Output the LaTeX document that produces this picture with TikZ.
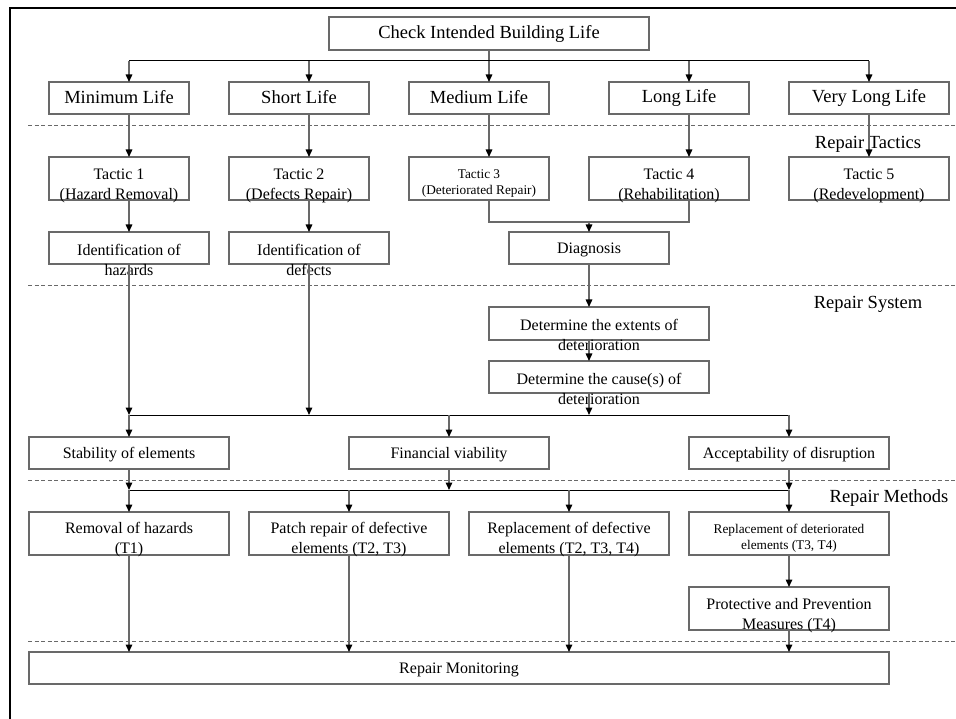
\documentclass[tikz,border=0pt]{standalone}
\usepackage{fontspec}
\setmainfont{Liberation Serif}
\usetikzlibrary{arrows.meta}
\definecolor{edge}{RGB}{105,105,105}
\newcommand{\bigstrut}{\rule[-3pt]{0pt}{16.5pt}}
\newcommand{\midstrut}{\rule[-2pt]{0pt}{16pt}}
\newcommand{\smallstrut}{\rule[-0.5pt]{0pt}{15pt}}
\begin{document}
\begin{tikzpicture}[x=1pt,y=1pt,
  box/.style={draw=edge, line width=1.6pt, inner sep=0pt, outer sep=0pt},
  big/.style={font=\fontsize{18.5}{21}\selectfont,
    execute at begin node=\bigstrut, execute at end node=\bigstrut},
  mid/.style={font=\fontsize{16}{20}\selectfont, align=center,
    execute at begin node=\midstrut, execute at end node=\midstrut},
  small/.style={font=\fontsize{13.3}{16.5}\selectfont, align=center,
    execute at begin node=\smallstrut, execute at end node=\smallstrut},
  tip/.style={-{Triangle[length=7.5pt,width=6.5pt,color=black,fill=black]}},
  conn/.style={draw=edge, line width=1.5pt, tip},
  plain/.style={draw=edge, line width=1.5pt},
  bus/.style={draw=black, line width=1pt},
  sep/.style={draw=edge, line width=1pt, dash pattern=on 4pt off 2.5pt},
]
\useasboundingbox (0,0) rectangle (956,-719);

% outer frame (left and top edges)
\draw[line width=2.6pt] (10,-719) -- (10,-8) -- (956,-8);

% section separators
\draw[sep] (28,-126) -- (956,-126);
\draw[sep] (28,-286) -- (956,-286);
\draw[sep] (28,-480) -- (956,-480);
\draw[sep] (28,-641) -- (956,-641);

% section titles
\node[big] (lt) at (868,-144) {Repair Tactics};
\node[big] (ls) at (868,-304) {Repair System};
\node[big] (lm) at (889,-498) {Repair Methods};

% column and bus coordinates
\coordinate (cA) at (129,0);
\coordinate (cB) at (309,0);
\coordinate (cC) at (489,0);
\coordinate (cD) at (589,0);
\coordinate (cE) at (689,0);
\coordinate (cF) at (869,0);
\coordinate (cJ) at (789,0);
\coordinate (b1) at (0,-61);
\coordinate (b2) at (0,-222);
\coordinate (b3) at (0,-415);
\coordinate (b4) at (0,-490);

% building life
\node[box, big, minimum width=320pt, minimum height=33pt] (check) at (489,-33.5) {Check Intended Building Life};
\node[box, big, minimum width=140pt, minimum height=32pt] (min) at (119,-98) {Minimum Life};
\node[box, big, minimum width=140pt, minimum height=32pt] (short) at (299,-98) {Short Life};
\node[box, big, minimum width=140pt, minimum height=32pt] (med) at (479,-98) {Medium Life};
\node[box, big, minimum width=140pt, minimum height=32pt] (long) at (679,-98) {Long Life};
\node[box, big, minimum width=160pt, minimum height=32pt] (vlong) at (869,-98) {Very Long Life};

% tactics
\node[box, minimum width=140pt, minimum height=43pt] (t1) at (119,-178.5) {};
\node[box, minimum width=140pt, minimum height=43pt] (t2) at (299,-178.5) {};
\node[box, minimum width=140pt, minimum height=43pt] (t3) at (479,-178.5) {};
\node[box, minimum width=160pt, minimum height=43pt] (t4) at (669,-178.5) {};
\node[box, minimum width=160pt, minimum height=43pt] (t5) at (869,-178.5) {};
\node[mid] (t1t) at (119,-185.5) {Tactic 1\\(Hazard Removal)};
\node[mid] (t2t) at (299,-185.5) {Tactic 2\\(Defects Repair)};
\node[small] (t3t) at (479,-183.5) {Tactic 3\\(Deteriorated Repair)};
\node[mid] (t4t) at (669,-185.5) {Tactic 4\\(Rehabilitation)};
\node[mid] (t5t) at (869,-185.5) {Tactic 5\\(Redevelopment)};

\node[box, minimum width=160pt, minimum height=32pt] (idh) at (129,-248) {};
\node[box, minimum width=160pt, minimum height=32pt] (idd) at (309,-248) {};
\node[mid] (idht) at (129,-260.5) {Identification of\\hazards};
\node[mid] (iddt) at (309,-260.5) {Identification of\\defects};
\node[box, mid, minimum width=160pt, minimum height=32pt] (diag) at (589,-248) {Diagnosis};

% repair system
\node[box, minimum width=220pt, minimum height=33pt] (ext) at (599,-323.5) {};
\node[mid] (extt) at (599,-335.5) {Determine the extents of\\deterioration};
\node[box, minimum width=220pt, minimum height=32pt] (cause) at (599,-377) {};
\node[mid] (causet) at (599,-389.5) {Determine the cause(s) of\\deterioration};

\node[box, mid, minimum width=200pt, minimum height=32pt] (stab) at (129,-453) {Stability of elements};
\node[box, mid, minimum width=200pt, minimum height=32pt] (fin) at (449,-453) {Financial viability};
\node[box, mid, minimum width=200pt, minimum height=32pt] (acc) at (789,-453) {Acceptability of disruption};

% repair methods
\node[box, minimum width=200pt, minimum height=43pt] (rem) at (129,-533.5) {};
\node[box, minimum width=200pt, minimum height=43pt] (patch) at (349,-533.5) {};
\node[box, minimum width=200pt, minimum height=43pt] (repl) at (569,-533.5) {};
\node[box, minimum width=200pt, minimum height=43pt] (repd) at (789,-533.5) {};
\node[mid] (remt) at (129,-540) {Removal of hazards\\(T1)};
\node[mid] (patcht) at (349,-540) {Patch repair of defective\\elements (T2, T3)};
\node[mid] (replt) at (569,-540) {Replacement of defective\\elements (T2, T3, T4)};
\node[small] (repdt) at (789,-538) {Replacement of deteriorated\\elements (T3, T4)};
\node[box, minimum width=200pt, minimum height=43pt] (prot) at (789,-608.5) {};
\node[mid] (prott) at (789,-615.5) {Protective and Prevention\\Measures (T4)};

\node[box, mid, minimum width=860pt, minimum height=32pt] (mon) at (459,-668) {Repair Monitoring};

% connectors: building life
\draw[plain] (check.south) -- (check.south |- b1);
\draw[bus] (cA |- b1) -- (cF |- b1);
\foreach \c/\n in {cA/min, cB/short, cC/med, cE/long, cF/vlong}
  \draw[conn] (\c |- b1) -- (\c |- \n.north);

% connectors: tactics
\foreach \c/\a/\b in {cA/min/t1, cB/short/t2, cC/med/t3, cE/long/t4, cF/vlong/t5}
  \draw[conn] (\c |- \a.south) -- (\c |- \b.north);
\draw[conn] (t1.south -| idh.north) -- (idh.north);
\draw[conn] (t2.south -| idd.north) -- (idd.north);
\draw[plain] (cC |- t3.south) -- (cC |- b2) -- (cE |- b2) -- (cE |- t4.south);
\draw[conn] (diag.north |- b2) -- (diag.north);

% connectors: repair system
\draw[conn] (diag.south) -- (cD |- ext.north);
\draw[conn] (cD |- ext.south) -- (cD |- cause.north);
\draw[conn] (cD |- cause.south) -- (cD |- b3);
\draw[conn] (idh.south) -- (idh.south |- b3);
\draw[conn] (idd.south) -- (idd.south |- b3);
\draw[bus] (cA |- b3) -- (cJ |- b3);
\foreach \n in {stab, fin, acc}
  \draw[conn] (\n.north |- b3) -- (\n.north);

% connectors: repair methods
\foreach \n in {stab, fin, acc}
  \draw[conn] (\n.south) -- (\n.south |- b4);
\draw[bus] (cA |- b4) -- (cJ |- b4);
\foreach \n in {rem, patch, repl, repd}
  \draw[conn] (\n.north |- b4) -- (\n.north);
\foreach \n in {rem, patch, repl}
  \draw[conn] (\n.south) -- (\n.south |- mon.north);
\draw[conn] (repd.south) -- (prot.north);
\draw[conn] (prot.south) -- (prot.south |- mon.north);
\end{tikzpicture}
\end{document}
